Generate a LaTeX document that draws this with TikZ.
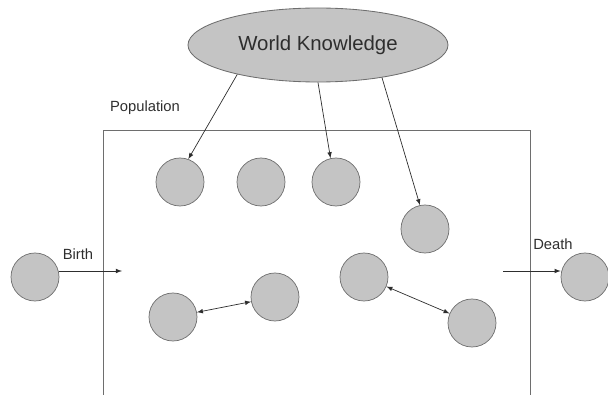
\documentclass[tikz,border=0pt]{standalone}
\usepackage{fontspec}
\setmainfont{Liberation Sans}
\usepackage{tikz}
\usetikzlibrary{shapes.geometric, positioning}
\definecolor{colorAgent}{HTML}{C4C4C4}
\definecolor{colorEdge}{HTML}{6E6E6E}
\definecolor{colorInk}{HTML}{2E2E2E}

\begin{document}
\begin{tikzpicture}[
        agent/.style={circle, draw=colorEdge, fill=colorAgent, line width=0.5pt, minimum size=1.2cm, inner sep=0pt},
        link/.style={colorInk, line width=0.5pt, -latex},
        twoway/.style={colorInk, line width=0.5pt, latex-latex},
        lbl/.style={text=colorInk, font=\fontsize{10.5}{12}\selectfont, inner sep=0pt}
    ]
        \useasboundingbox (0,0) rectangle (15.2,-9.875);
        % population box, bottom edge runs off the page
        \draw[colorEdge, line width=0.6pt] (2.575,-10.2) -- (2.575,-3.25) -- (13.25,-3.25) -- (13.25,-10.2);
        \node[lbl] (pop) at (3.625,-2.7) {Population};

        \node[ellipse, draw=colorEdge, fill=colorAgent, line width=0.6pt, minimum width=6.5cm, minimum height=1.85cm, inner sep=0pt,
              text=colorInk, font=\fontsize{14.5}{16}\selectfont] (wk) at (7.95,-1.125) {World Knowledge};

        \node[agent] (a1) at (4.5,-4.55) {};
        \node[agent] (a2) at (6.525,-4.55) {};
        \node[agent] (a3) at (8.4,-4.55) {};
        \node[agent] (a4) at (10.625,-5.725) {};
        \node[agent] (a5) at (4.325,-7.925) {};
        \node[agent] (a6) at (6.875,-7.425) {};
        \node[agent] (a7) at (9.1,-6.925) {};
        \node[agent] (a8) at (11.8,-8.075) {};
        \node[agent] (birth) at (0.875,-6.925) {};
        \node[agent] (death) at (14.625,-6.925) {};

        \coordinate (entry) at (3.05,-6.775);
        \coordinate (exit) at (12.575,-6.775);

        \draw[link] (wk.200) -- (a1.70);
        \draw[link] (wk.270) -- (a3.103);
        \draw[link] (wk.333) -- (a4.102);

        \draw[link] (birth.east |- entry) -- (entry);
        \node[lbl] (birthlbl) at (1.95,-6.35) {Birth};
        \draw[link] (exit) -- (exit -| death.west);
        \node[lbl] (deathlbl) at (13.825,-6.1) {Death};

        \draw[twoway] (a5) -- (a6);
        \draw[twoway] (a7) -- (a8);
    \end{tikzpicture}
\end{document}
